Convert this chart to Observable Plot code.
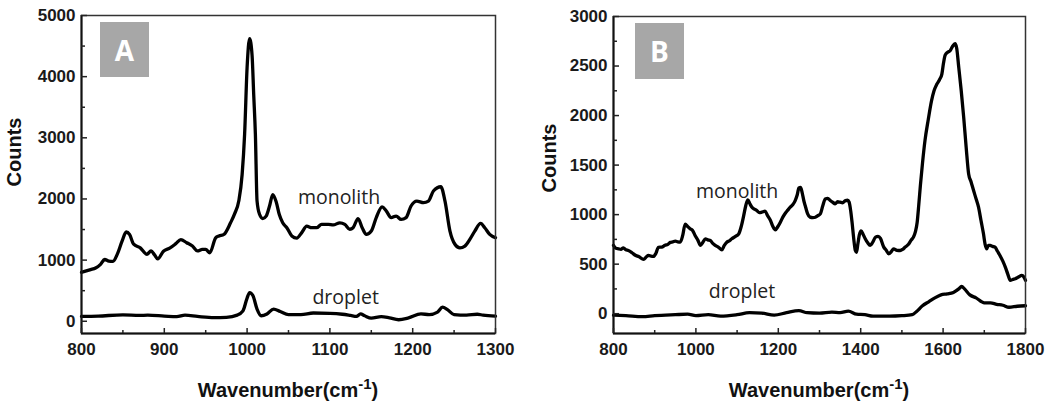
<!DOCTYPE html>
<html><head><meta charset="utf-8">
<script src="https://cdn.jsdelivr.net/npm/d3@7"></script>
<script src="https://cdn.jsdelivr.net/npm/@observablehq/plot@0.6"></script>
<style>
body{margin:0;background:#fff}
#wrap{position:relative;width:1050px;height:404px;overflow:hidden;background:#fff}
.panel{position:absolute;top:0}
.tag{position:absolute;background:#a7a7a7;color:#fff;font:bold 28px "Open Sans",sans-serif;display:flex;align-items:center;justify-content:center}
</style></head><body>
<div id="wrap">
<div id="pa" class="panel" style="left:0"></div>
<div id="pb" class="panel" style="left:525px"></div>
<div class="tag" style="left:100px;top:22px;width:49px;height:55px">A</div>
<div class="tag" style="left:635px;top:23px;width:49px;height:56px">B</div>
</div>
<script>
// ---- Panel A data: [wavenumber, counts]
const monolithA = [[800,800],[811,845],[817,870],[823,930],[828,1010],[833,985],[838,980],[843,1090],[849,1310],[854,1460],[858,1420],[863,1260],[871,1200],[879,1095],[884,1150],[888,1090],[892,1020],[899,1145],[907,1200],[914,1270],[920,1335],[927,1285],[934,1230],[940,1150],[946,1175],[950,1175],[955,1120],[962,1365],[966,1395],[972,1420],[980,1610],[985,1760],[990,1970],[994,2400],[997,3060],[1000,4150],[1003,4620],[1006,4350],[1008,3700],[1010,3060],[1012,1970],[1015,1750],[1019,1680],[1023,1720],[1027,1880],[1031,2070],[1035,1960],[1039,1740],[1043,1610],[1048,1530],[1054,1395],[1060,1360],[1066,1450],[1072,1555],[1078,1530],[1084,1530],[1090,1585],[1098,1585],[1104,1575],[1112,1610],[1118,1585],[1124,1505],[1128,1530],[1134,1680],[1139,1530],[1144,1420],[1150,1475],[1156,1695],[1163,1870],[1168,1805],[1174,1695],[1180,1720],[1186,1665],[1192,1695],[1198,1885],[1205,1965],[1213,1940],[1219,1965],[1225,2130],[1234,2200],[1239,1965],[1245,1475],[1251,1260],[1257,1200],[1263,1230],[1269,1340],[1275,1475],[1282,1600],[1287,1530],[1293,1420],[1300,1365]];
const dropletA = [[800,80],[820,85],[850,105],[870,95],[880,100],[900,85],[915,75],[925,100],[940,80],[960,60],[975,65],[988,100],[995,170],[1000,380],[1003,470],[1007,420],[1012,200],[1017,90],[1024,120],[1032,200],[1040,160],[1050,110],[1065,110],[1080,135],[1100,130],[1115,115],[1125,95],[1132,80],[1137,120],[1142,90],[1150,50],[1162,75],[1172,55],[1183,25],[1195,55],[1210,120],[1220,110],[1230,150],[1236,230],[1242,190],[1250,110],[1265,100],[1278,115],[1285,100],[1300,85]];
const xTicksA = [800,900,1000,1100,1200,1300];
const xMinorA = [850,950,1050,1150,1250];
const yTicksA = [0,1000,2000,3000,4000,5000];
const yMinorA = [500,1500,2500,3500,4500];
const labelsA = [{x:1111,y:1918,text:"monolith"},{x:1119,y:279,text:"droplet"}];

// ---- Panel B data
const monolithB = [[800,690],[806,660],[812,655],[818,650],[824,665],[830,645],[836,638],[845,615],[853,590],[862,575],[873,548],[880,575],[885,588],[891,580],[897,578],[903,610],[909,670],[917,672],[925,690],[932,700],[938,720],[944,725],[950,732],[956,725],[962,722],[968,790],[974,905],[980,880],[986,857],[992,840],[998,790],[1005,740],[1011,690],[1017,720],[1023,756],[1029,745],[1035,739],[1041,710],[1047,690],[1055,670],[1063,645],[1069,690],[1075,722],[1081,735],[1087,756],[1096,780],[1104,806],[1110,880],[1116,990],[1121,1090],[1126,1149],[1131,1110],[1136,1075],[1142,1055],[1148,1041],[1154,1020],[1160,1025],[1168,1035],[1174,990],[1181,941],[1187,880],[1193,847],[1199,880],[1205,924],[1211,975],[1217,1014],[1223,1045],[1229,1075],[1235,1100],[1241,1142],[1246,1200],[1250,1270],[1254,1275],[1258,1220],[1262,1140],[1266,1080],[1271,1010],[1277,975],[1284,970],[1290,974],[1296,990],[1302,1008],[1308,1090],[1314,1159],[1320,1165],[1326,1142],[1332,1125],[1338,1109],[1344,1130],[1350,1125],[1356,1120],[1363,1142],[1368,1145],[1372,1125],[1376,1030],[1379,924],[1383,760],[1387,638],[1390,620],[1393,700],[1397,800],[1401,835],[1406,800],[1411,756],[1417,715],[1423,689],[1429,720],[1436,773],[1442,780],[1448,760],[1456,672],[1462,640],[1468,605],[1474,625],[1480,655],[1488,640],[1496,638],[1502,650],[1508,672],[1516,700],[1522,740],[1528,773],[1533,830],[1537,920],[1541,1100],[1545,1300],[1550,1520],[1556,1747],[1564,1960],[1572,2150],[1578,2250],[1585,2318],[1591,2360],[1597,2419],[1601,2530],[1605,2610],[1611,2640],[1617,2654],[1623,2700],[1629,2725],[1633,2680],[1638,2486],[1644,2250],[1650,1982],[1656,1680],[1662,1411],[1668,1330],[1674,1243],[1680,1160],[1686,1075],[1692,940],[1698,806],[1702,700],[1706,655],[1710,690],[1714,689],[1720,680],[1726,672],[1732,630],[1738,588],[1745,530],[1751,470],[1757,400],[1763,336],[1769,345],[1775,353],[1783,370],[1791,386],[1796,370],[1800,336]];
const dropletB = [[800,-15],[830,-20],[870,-30],[900,-20],[950,-10],[980,-5],[1000,-20],[1030,-10],[1060,-25],[1100,-10],[1130,10],[1160,5],[1190,-15],[1220,10],[1250,30],[1270,10],[1300,5],[1330,15],[1350,10],[1370,25],[1390,-5],[1410,-10],[1430,-25],[1470,-25],[1500,-20],[1525,-10],[1535,20],[1550,80],[1565,120],[1580,160],[1595,190],[1610,200],[1625,215],[1638,250],[1645,275],[1652,250],[1665,190],[1680,160],[1700,110],[1715,110],[1730,95],[1745,85],[1760,65],[1780,75],[1800,80]];
const xTicksB = [800,1000,1200,1400,1600,1800];
const xMinorB = [900,1100,1300,1500,1700];
const yTicksB = [0,500,1000,1500,2000,2500,3000];
const yMinorB = [250,750,1250,1750,2250,2750];
const labelsB = [{x:1100,y:1172,text:"monolith"},{x:1112,y:162,text:"droplet"}];

const toObj = arr => arr.map(([x,y]) => ({x,y}));

function panel(el, cfg) {
  const height = 404;
  const innerH = height - cfg.mt - cfg.mb;
  const innerW = cfg.width - cfg.ml - cfg.mr;
  const svg = Plot.plot({
    width: cfg.width, height,
    marginLeft: cfg.ml, marginRight: cfg.mr, marginTop: cfg.mt, marginBottom: cfg.mb,
    x: {domain: cfg.xDomain},
    y: {domain: cfg.yDomain},
    style: {fontFamily: "Liberation Sans, Arial, sans-serif", fontSize: "17px", fontWeight: "bold", color: "#1a1a1a", background: "transparent"},
    marks: [
      Plot.line(toObj(cfg.mono), {x: "x", y: "y", stroke: "#000", strokeWidth: 3.3, curve: "monotone-x"}),
      Plot.line(toObj(cfg.drop), {x: "x", y: "y", stroke: "#000", strokeWidth: 3.3, curve: "monotone-x"}),
      Plot.frame({stroke: "#333", strokeWidth: 1.5}),
      Plot.ruleX([cfg.xDomain[0]], {stroke: "#111", strokeWidth: 2}),
      Plot.ruleY([cfg.yDomain[0]], {stroke: "#111", strokeWidth: 2}),
      Plot.tickX(cfg.xMajor, {x: d => d, insetTop: innerH - 5, stroke: "#222", strokeWidth: 1.5}),
      Plot.tickX(cfg.xMinor, {x: d => d, insetTop: innerH - 3, stroke: "#222", strokeWidth: 1.5}),
      Plot.tickY(cfg.yMajor, {y: d => d, insetRight: innerW - 6, stroke: "#222", strokeWidth: 1.5}),
      Plot.tickY(cfg.yMinor, {y: d => d, insetRight: innerW - 4, stroke: "#222", strokeWidth: 1.5}),
      Plot.axisX({ticks: cfg.xMajor, tickSize: 0, tickPadding: 9, label: null, tickFormat: d => String(d)}),
      Plot.axisY({ticks: cfg.yMajor, tickSize: 0, tickPadding: 6, label: null, tickFormat: d => String(d)}),
      Plot.text(cfg.labels, {x: "x", y: "y", text: "text", lineAnchor: "bottom", textAnchor: "middle", fontFamily: "Open Sans", fontSize: 19.5, fontWeight: "normal", fill: "#222"})
    ]
  });
  const s = d3.select(svg);
  const t = s.append("text")
    .attr("x", cfg.ml + innerW / 2).attr("y", 397)
    .attr("text-anchor", "middle")
    .attr("font-family", "Liberation Sans, Arial, sans-serif")
    .attr("font-weight", "bold").attr("font-size", 20).attr("fill", "#111");
  t.append("tspan").text("Wavenumber(cm");
  t.append("tspan").attr("font-size", 15).attr("dy", -8).text("-1");
  t.append("tspan").attr("dy", 8).text(")");
  s.append("text")
    .attr("transform", `translate(${cfg.yTitleX},${cfg.yTitleY}) rotate(-90)`)
    .attr("text-anchor", "middle")
    .attr("font-family", "Liberation Sans, Arial, sans-serif")
    .attr("font-weight", "bold").attr("font-size", 20).attr("fill", "#111")
    .text("Counts");
  document.getElementById(el).appendChild(svg);
}

panel("pa", {width: 520, ml: 81, mr: 25, mt: 15, mb: 71, xDomain: [800,1300], yDomain: [-200,5000],
  mono: monolithA, drop: dropletA, xMajor: xTicksA, xMinor: xMinorA, yMajor: yTicksA, yMinor: yMinorA,
  labels: labelsA, yTitleX: 21, yTitleY: 152});
panel("pb", {width: 525, ml: 88, mr: 25, mt: 16, mb: 71, xDomain: [800,1800], yDomain: [-200,3000],
  mono: monolithB, drop: dropletB, xMajor: xTicksB, xMinor: xMinorB, yMajor: yTicksB, yMinor: yMinorB,
  labels: labelsB, yTitleX: 31, yTitleY: 158});
</script>
</body></html>
